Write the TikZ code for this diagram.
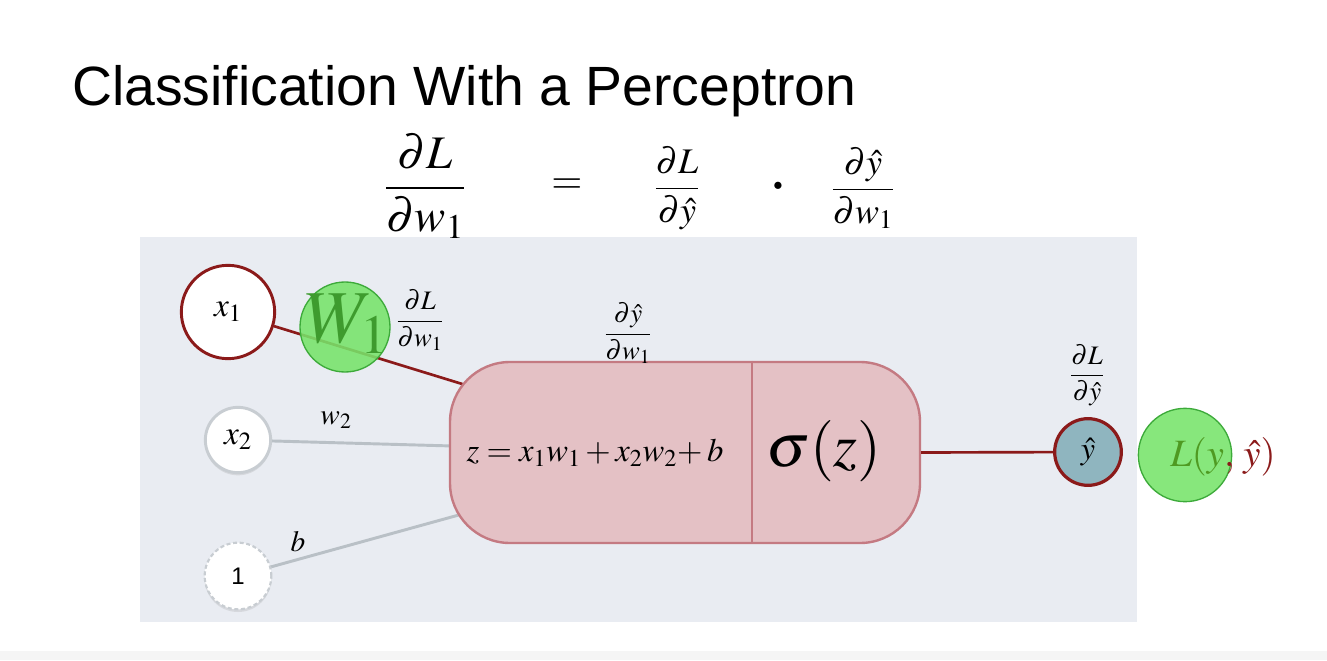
\documentclass[tikz,border=0pt]{standalone}
\usepackage{amsmath}
\usepackage{mathptmx}
\usepackage{fontspec}
\setmainfont{Liberation Serif}
\newfontfamily\titlefont{Liberation Sans}
\usetikzlibrary{shadows,calc}
\definecolor{panel}{HTML}{E9ECF2}
\definecolor{dred}{HTML}{8B1A1A}
\definecolor{lgray}{HTML}{B9C0C6}
\definecolor{cgray}{HTML}{C8CDD2}
\definecolor{boxfill}{HTML}{E4C1C5}
\definecolor{boxdraw}{HTML}{C47A82}
\definecolor{yfill}{HTML}{8FB5BF}
\definecolor{gfill}{HTML}{77E46A}
\definecolor{gdraw}{HTML}{3DAA3A}
\definecolor{wtext}{HTML}{3E9B2E}
\definecolor{ltext}{HTML}{4F9A22}
\tikzset{
  incircle/.style={circle, fill=white, inner sep=0pt},
  greencircle/.style={circle, fill=gfill, fill opacity=0.88, draw=gdraw, line width=1pt, inner sep=0pt, minimum size=#1},
  softshadow/.style={drop shadow={opacity=0.18, shadow xshift=0pt, shadow yshift=-2pt}},
  redline/.style={draw=dred, line width=2pt},
  grayline/.style={draw=lgray, line width=2.2pt},
  lbl/.style={inner sep=0pt, font=\fontsize{#1}{#1}\selectfont},
}
\begin{document}
\begin{tikzpicture}[x=0.75pt,y=-0.75pt]
\useasboundingbox (0,0) rectangle (1327,660);
\fill[white] (0,0) rectangle (1327,660);
\fill[panel] (140,237) rectangle (1137,622);
\fill[black!4] (0,651) rectangle (1327,660);

% title
\node[anchor=base west, inner sep=0pt, font=\titlefont\fontsize{41.5}{45}\selectfont] (title) at (72,105) {Classification With a Perceptron};

% top equation
\node[lbl=35] (eqL) at (425,186) {$\dfrac{\partial L}{\partial w_1}$};
\node[lbl=30] (eqeq) at (567,186) {$=$};
\node[lbl=27] (eqA) at (677,188) {$\dfrac{\partial L}{\partial \hat y}$};
\node[lbl=14] (eqdot) at (778,186) {$\bullet$};
\node[lbl=27] (eqB) at (863,188) {$\dfrac{\partial \hat y}{\partial w_1}$};

% nodes
\node[incircle, draw=dred, line width=2.2pt, minimum size=70pt, font=\fontsize{25}{25}\selectfont] (x1) at (228,312) {$x_1$};
\node[incircle, draw=cgray, line width=2.2pt, minimum size=49pt, softshadow, font=\fontsize{25}{25}\selectfont] (x2) at (238,440) {$x_2$};
\node[incircle, draw=cgray, line width=1.6pt, densely dashed, minimum size=50pt, softshadow, font=\titlefont\fontsize{18}{18}\selectfont] (one) at (238,576) {1};
\node[circle, fill=yfill, draw=dred, line width=2.4pt, minimum size=50pt, inner sep=0pt, font=\fontsize{24}{24}\selectfont] (yhat) at (1088,452) {$\hat y$};

% main box centre
\coordinate (bc) at (685,452.5);
% connectors to box (drawn under the box)
\draw[redline] (x1) -- (bc);
\draw[grayline] (x2) -- (bc);
\draw[grayline] (one) -- (bc);

% W1 circle over the red line
\node[greencircle=67.5pt] (w1c) at (345,327) {};
\node[text=wtext, inner sep=0pt, font=\fontsize{56}{56}\selectfont] (w1t) at (347,324) {$W_1$};

% box
\node[draw=boxdraw, fill=boxfill, line width=1.8pt, rounded corners=45pt, minimum width=352.5pt, minimum height=135.75pt] (box) at (bc) {};
\coordinate (dv) at (752,452);
\draw[boxdraw, line width=1.8pt] (dv |- box.north) -- (dv |- box.south);
\node[lbl=24.5] (zeq) at (595,453) {$z = x_1w_1 + x_2w_2\mskip-\medmuskip + b$};
\node[lbl=46] (sig) at (824,451) {$\sigma(z)$};

% output connector
\draw[redline] (box.east) -- (yhat);

% labels
\node[lbl=22] (w2l) at (336,420) {$w_2$};
\node[lbl=22] (bl) at (298,542) {$b$};
\node[lbl=20] (gw1) at (420,320) {$\dfrac{\partial L}{\partial w_1}$};
\node[lbl=20] (gyw) at (628,333) {$\dfrac{\partial \hat y}{\partial w_1}$};
\node[lbl=20] (gly) at (1087,375) {$\dfrac{\partial L}{\partial \hat y}$};

% loss
\node[greencircle=70pt] (lc) at (1185,455) {};
\node[lbl=29, anchor=west] (lt) at (1170,457) {$\color{ltext}L(y\color{dred},\, \hat y)$};
\end{tikzpicture}
\end{document}
